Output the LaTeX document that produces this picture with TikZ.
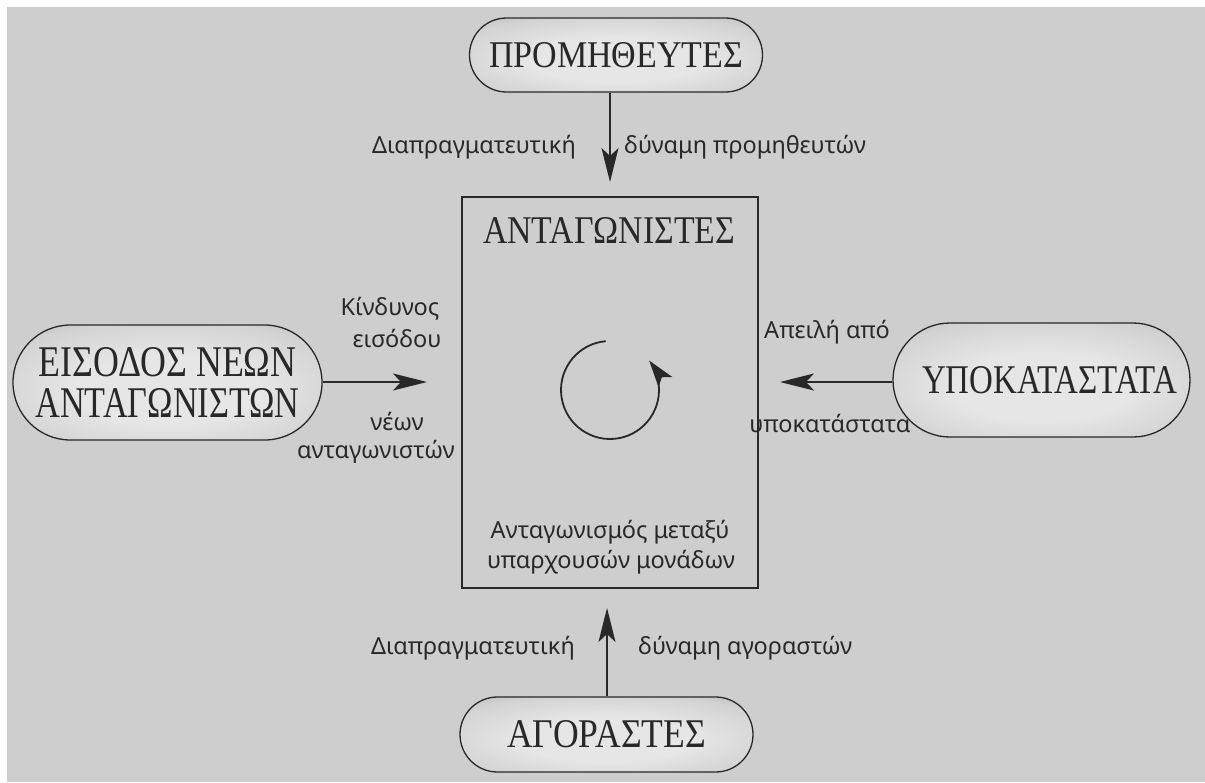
\documentclass[tikz,border=0pt]{standalone}
\usepackage{graphicx}
\usepackage{fontspec}
\setmainfont{Liberation Serif}
\newfontfamily\labfont{Noto Sans}
\usetikzlibrary{shapes.misc,arrows.meta}
\definecolor{bg}{RGB}{206,206,206}
\definecolor{ink}{RGB}{40,40,40}
\definecolor{pA}{RGB}{230,230,230}
\definecolor{pB}{RGB}{210,210,210}
\definecolor{pC}{RGB}{165,165,165}
\definecolor{pD}{RGB}{120,120,120}
\pgfdeclareradialshading{pillshade}{\pgfpoint{0bp}{-4bp}}{color(0bp)=(pA); color(15bp)=(pA); color(30bp)=(pB); color(44bp)=(pC); color(54bp)=(pD); color(75bp)=(pD)}
\newcommand{\capt}[3]{\resizebox{#1pt}{#2pt}{\fontsize{40}{40}\selectfont #3}}
\begin{document}
\begin{tikzpicture}[x=1pt,y=-1pt,
  pill/.style={rounded rectangle, draw=ink, line width=1.3pt, shading=pillshade, inner sep=0pt, text=ink, align=center, font=\fontsize{40}{40}\selectfont},
  lab/.style={font=\labfont\fontsize{23.5}{26}\selectfont, text=ink, inner sep=0pt},
  arr/.style={draw=ink, line width=2pt, -{Stealth[length=34pt,width=17pt,inset=8pt]}},
  compbox/.style={draw=ink, line width=1.5pt, inner sep=0pt},
]
\useasboundingbox (0,0) rectangle (1205,782);
\fill[white] (0,0) rectangle (1205,782);
\fill[bg] (7,7) rectangle (1205,782);

% central box
\node[compbox, minimum width=296pt, minimum height=391pt] (comp) at (610,392.5) {};
\node[anchor=base, text=ink, inner sep=0pt] (ttl) at (609,243) {\capt{252}{26}{ΑΝΤΑΓΩΝΙΣΤΕΣ}};
\node[lab, anchor=base] (c1) at (610,538) {Ανταγωνισμός μεταξύ};
\node[lab, anchor=base] (c2) at (611,568) {υπαρχουσών μονάδων};

% rotating arrow
\coordinate (cyc) at (610,390);
\draw[ink, line width=1.8pt, -{Stealth[length=27pt,width=17pt,inset=6pt]}] (cyc) ++(-95:49) arc[start angle=-95, end angle=-397, radius=49];

% pills
\node[pill, minimum width=293pt, minimum height=74pt] (sup) at (616,55) {\capt{254}{25}{ΠΡΟΜΗΘΕΥΤΕΣ}};
\node[pill, minimum width=309pt, minimum height=115pt] (ent) at (167.5,382.5) {\capt{258}{29}{ΕΙΣΟΔΟΣ ΝΕΩΝ}\\[1pt]\capt{264}{29}{ΑΝΤΑΓΩΝΙΣΤΩΝ}};
\node[pill, minimum width=297pt, minimum height=114pt] (sub) at (1041.5,380) {\hspace*{16pt}\capt{255}{27}{ΥΠΟΚΑΤΑΣΤΑΤΑ}};
\node[pill, minimum width=293pt, minimum height=75pt] (buy) at (606.5,734.5) {\capt{199}{27}{ΑΓΟΡΑΣΤΕΣ}};

% arrows
\coordinate (tT) at (610,182);
\coordinate (tB) at (607,608);
\coordinate (tL) at (427,382);
\coordinate (tR) at (780,382);
\draw[arr] (sup.south -| tT) -- (tT);
\draw[arr] (buy.north -| tB) -- (tB);
\draw[arr] (ent.east |- tL) -- (tL);
\draw[arr] (sub.west |- tR) -- (tR);

% labels
\node[lab, anchor=base east] (l1) at (576,153) {Διαπραγματευτική};
\node[lab, anchor=base west] (l2) at (624,153) {δύναμη προμηθευτών};
\node[lab, anchor=base east] (l3) at (575,654) {Διαπραγματευτική};
\node[lab, anchor=base west] (l4) at (638,654) {δύναμη αγοραστών};
\node[lab, anchor=base] (l5) at (390,315) {Κίνδυνος};
\node[lab, anchor=base] (l6) at (397,347) {εισόδου};
\node[lab, anchor=base] (l7) at (397,430) {νέων};
\node[lab, anchor=base east] (l8) at (455,458) {ανταγωνιστών};
\node[lab, anchor=base] (l9) at (827,338) {Απειλή από};
\node[lab, anchor=base] (l10) at (830,432) {υποκατάστατα};
\end{tikzpicture}
\end{document}
